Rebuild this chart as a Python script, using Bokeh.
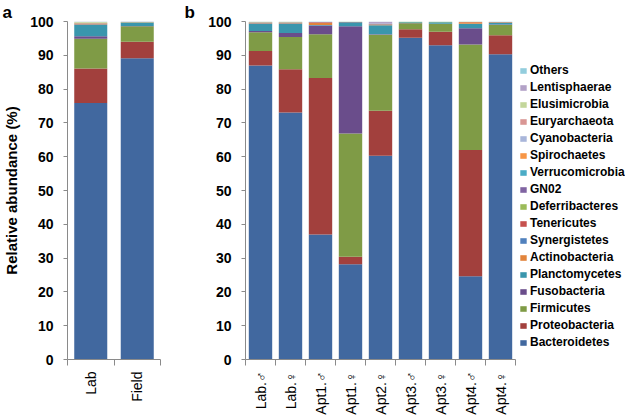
import math
from bokeh.plotting import figure
from bokeh.models import (ColumnDataSource, FactorRange, Range1d, LinearAxis, CategoricalAxis,
                          FixedTicker, Legend, LegendItem, Title)
from bokeh.layouts import row
from bokeh.embed import file_html
from bokeh.resources import INLINE

# Stack order, bottom -> top
taxa = ["Bacteroidetes", "Proteobacteria", "Firmicutes", "Fusobacteria", "Planctomycetes",
        "Actinobacteria", "Synergistetes", "Tenericutes", "Deferribacteres", "GN02",
        "Verrucomicrobia", "Spirochaetes", "Cyanobacteria", "Euryarchaeota",
        "Elusimicrobia", "Lentisphaerae", "Others"]
colors = ["#41689f", "#a2403d", "#7f9b46", "#6a4d8b", "#3a96ad",
          "#e2843c", "#5181bd", "#c6514e", "#9bbb59", "#8064a2",
          "#4bacc6", "#f79646", "#a9b6da", "#d99694",
          "#c3d69b", "#b3a2c7", "#93cddd"]

# Panel a
samples_a = ["Lab", "Field"]
lab = [75.9, 10.2, 8.8, 0.7, 3.5, 0.05, 0.05, 0.1, 0.1, 0.05, 0.05, 0.05, 0.05, 0.05, 0.2, 0.05, 0.1]
field = [89.1, 4.9, 4.6, 0.1, 0.95, 0.05, 0.05, 0.05, 0.05, 0.05, 0.0, 0.0, 0.0, 0.0, 0.05, 0.0, 0.05]

# Panel b
samples_b = ["Lab.\u2642", "Lab.\u2640", "Apt1.\u2642", "Apt1.\u2640", "Apt2.\u2640",
             "Apt3.\u2642", "Apt3.\u2640", "Apt4.\u2642", "Apt4.\u2640"]
lab_m = [87.0, 4.3, 5.5, 0.4, 2.2, 0.05, 0.05, 0.1, 0.1, 0.05, 0.05, 0.0, 0.0, 0.0, 0.1, 0.0, 0.1]
lab_f = [73.1, 12.8, 9.5, 1.2, 2.8, 0.05, 0.05, 0.1, 0.1, 0.05, 0.05, 0.0, 0.0, 0.0, 0.1, 0.0, 0.1]
apt1_m = [37.0, 46.3, 12.9, 2.6, 0.2, 0.6, 0.05, 0.1, 0.05, 0.05, 0.05, 0.0, 0.0, 0.0, 0.05, 0.0, 0.05]
apt1_f = [28.2, 2.2, 36.5, 31.7, 1.2, 0.0, 0.0, 0.05, 0.05, 0.0, 0.0, 0.0, 0.0, 0.0, 0.0, 0.0, 0.1]
apt2_f = [60.3, 13.3, 22.5, 0.1, 2.7, 0.05, 0.05, 0.1, 0.1, 0.05, 0.05, 0.0, 0.0, 0.0, 0.05, 0.6, 0.05]
apt3_m = [95.2, 2.5, 1.8, 0.05, 0.2, 0.0, 0.0, 0.05, 0.1, 0.0, 0.0, 0.0, 0.0, 0.0, 0.0, 0.0, 0.1]
apt3_f = [93.0, 4.0, 2.3, 0.05, 0.4, 0.0, 0.0, 0.05, 0.1, 0.0, 0.0, 0.0, 0.0, 0.0, 0.0, 0.0, 0.1]
apt4_m = [24.6, 37.4, 31.2, 4.8, 1.3, 0.5, 0.0, 0.05, 0.05, 0.0, 0.0, 0.0, 0.0, 0.0, 0.0, 0.0, 0.1]
apt4_f = [90.3, 5.6, 3.1, 0.1, 0.5, 0.05, 0.0, 0.1, 0.1, 0.0, 0.0, 0.0, 0.0, 0.0, 0.0, 0.0, 0.15]

y_ticks = [0, 10, 20, 30, 40, 50, 60, 70, 80, 90, 100]

GRAY = "#8a8a8a"
FONT = "Liberation Sans"


def make_source(samples, series):
    data = {"sample": samples}
    for i, t in enumerate(taxa):
        data[t] = [s[i] for s in series]
    return ColumnDataSource(data)


def make_panel(samples, series, bar_width, frame_w, left_border, right_border, ylabel, tag, tag_off):
    p = figure(x_range=FactorRange(factors=samples), y_range=Range1d(0, 100),
               frame_width=frame_w, frame_height=338,
               output_backend="svg", toolbar_location=None, x_axis_location=None,
               min_border_left=left_border, min_border_right=right_border,
               min_border_top=0, min_border_bottom=0,
               title=Title(text=tag, align="left", offset=tag_off, standoff=0,
                           text_font=FONT, text_font_style="bold", text_font_size="17px",
                           text_color="black"))
    p.outline_line_color = None
    p.grid.visible = False

    yax = p.yaxis[0]
    yax.ticker = FixedTicker(ticks=y_ticks)
    yax.major_tick_out = 4
    yax.major_tick_in = 0
    yax.minor_tick_line_color = None
    yax.axis_line_color = GRAY
    yax.major_tick_line_color = GRAY
    yax.major_label_text_font = FONT
    yax.major_label_text_font_style = "bold"
    yax.major_label_text_font_size = "14px"
    yax.major_label_text_color = "black"
    yax.major_label_standoff = 10
    if ylabel:
        yax.axis_label = ylabel
        yax.axis_label_text_font = FONT
        yax.axis_label_text_font_style = "bold"
        yax.axis_label_text_font_size = "15px"
        yax.axis_label_text_color = "black"
        yax.axis_label_standoff = 7

    n = len(samples)
    edge_ticks = list(range(n + 1))
    # tick marks at category boundaries (synthetic coordinates 0..n), no labels
    edge_axis = LinearAxis(ticker=FixedTicker(ticks=edge_ticks),
                           major_tick_out=6, major_tick_in=0,
                           minor_tick_line_color=None,
                           major_label_overrides={t: "" for t in edge_ticks},
                           major_label_text_font_size="1px", major_label_standoff=0,
                           axis_line_color=GRAY, major_tick_line_color=GRAY)
    p.add_layout(edge_axis, "below")
    cat_axis = CategoricalAxis(major_tick_line_color=None, axis_line_color=None,
                               major_label_orientation=math.pi / 2, major_label_standoff=0,
                               major_label_text_font=FONT, major_label_text_font_size="14px",
                               major_label_text_color="black")
    p.add_layout(cat_axis, "below")

    src = make_source(samples, series)
    rends = p.vbar_stack(taxa, x="sample", width=bar_width, fill_color=colors,
                         line_color=None, source=src)
    return p, rends


pa, _ = make_panel(samples_a, [lab, field], 0.71, 93, 66, 19, "Relative abundance (%)", "a", -65)
pb, rends_b = make_panel(samples_b, [lab_m, lab_f, apt1_m, apt1_f, apt2_f, apt3_m, apt3_f, apt4_m, apt4_f],
                         0.78, 270, 66, 111, None, "b", -61)

items = [LegendItem(label=t, renderers=[r]) for t, r in zip(taxa, rends_b)][::-1]
legend = Legend(items=items, location=(4, 10), glyph_width=8, glyph_height=7,
                label_standoff=3, spacing=3, padding=0, margin=0, label_height=13,
                border_line_color=None, background_fill_color=None,
                label_text_font=FONT, label_text_font_size="12px",
                label_text_font_style="bold", label_text_color="black")
pb.add_layout(legend, "right")

layout = row(pa, pb)
open("out.html", "w").write(file_html(layout, INLINE))
